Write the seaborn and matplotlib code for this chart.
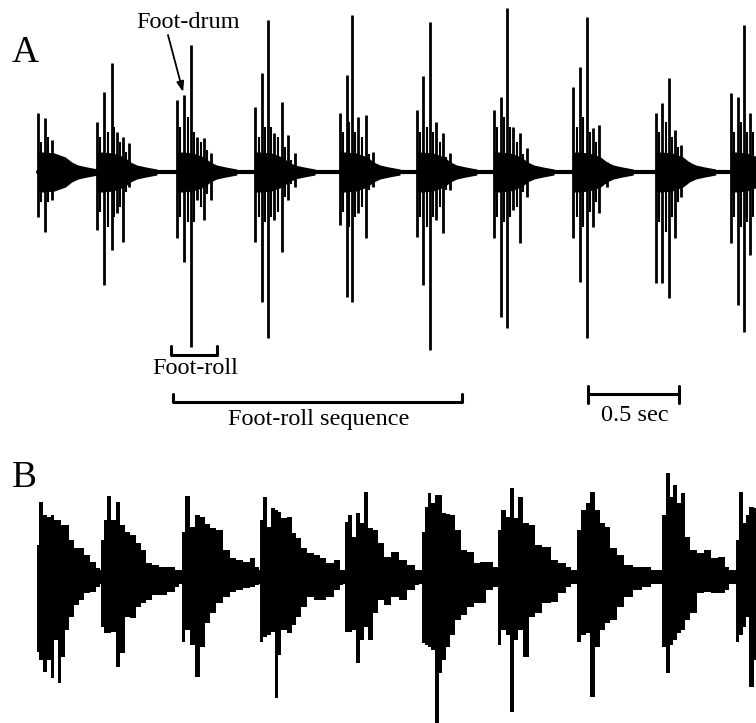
import numpy as np
import pandas as pd
import seaborn as sns
import matplotlib.pyplot as plt

sns.set_theme(style="white")
plt.rcParams['font.family'] = ['Liberation Serif', 'DejaVu Serif']

# ---------------- Panel A: foot-roll bursts ----------------
# burst onset (s); spikes inside a burst: offset (ms), upward / downward peak (a.u.)
a_onsets = [0.000, 0.323, 0.762, 1.192, 1.659, 2.081, 2.505, 2.941, 3.394, 3.806]
a_spike_ms = [
    [0, 38, 74],
    [0, 42, 82, 110, 146, 179],
    [0, 42, 77, 113, 150, 187],
    [0, 40, 73, 106, 147, 180, 220],
    [0, 37, 68, 100, 143, 180],
    [0, 36, 73, 106, 143, 183],
    [0, 37, 70, 106, 143, 180],
    [0, 37, 74, 107, 143, 183],
    [0, 36, 75, 106, 139, 185],
    [0, 38, 73, 106],
]
a_spike_up = [
    [0.59, 0.54, 0.32],
    [0.50, 0.80, 1.09, 0.40, 0.35, 0.29],
    [0.72, 0.77, 1.27, 0.35, 0.34, 0.19],
    [0.65, 0.99, 1.52, 0.39, 0.70, 0.37, 0.19],
    [0.59, 0.97, 1.57, 0.55, 0.57, 0.20],
    [0.62, 0.96, 1.50, 0.50, 0.39, 0.19],
    [0.62, 0.75, 1.64, 0.45, 0.39, 0.24],
    [0.85, 1.05, 1.55, 0.44, 0.47, 0.10],
    [0.59, 0.69, 0.94, 0.42, 0.27, 0.10],
    [0.79, 0.75, 1.47, 0.59],
]
a_spike_down = [
    [0.45, 0.60, 0.28],
    [0.58, 1.13, 0.78, 0.41, 0.70, 0.15],
    [0.66, 0.90, 1.75, 0.28, 0.48, 0.28],
    [0.70, 1.30, 1.66, 0.48, 0.80, 0.28, 0.15],
    [0.53, 1.25, 1.30, 0.41, 0.66, 0.15],
    [0.65, 1.13, 1.78, 0.48, 0.61, 0.18],
    [0.66, 1.45, 1.56, 0.38, 0.71, 0.25],
    [0.66, 1.10, 1.66, 0.55, 0.41, 0.15],
    [1.11, 1.11, 1.26, 0.66, 0.25, 0.08],
    [0.71, 1.33, 1.60, 0.83],
]
# smaller spikes between the main ones
a_sec_ms = [
    [18, 55, 92],
    [20, 62, 96, 128, 162],
    [20, 60, 95, 131, 168],
    [20, 57, 90, 126, 163, 200],
    [18, 52, 84, 121, 161],
    [18, 55, 90, 125, 163],
    [18, 53, 88, 125, 162],
    [18, 55, 90, 125, 163],
    [18, 55, 90, 122, 162],
    [18, 55, 90, 125],
]
a_sec_up = [
    [0.30, 0.35, 0.15],
    [0.35, 0.40, 0.45, 0.30, 0.20],
    [0.45, 0.55, 0.40, 0.30, 0.22],
    [0.35, 0.45, 0.45, 0.35, 0.25, 0.12],
    [0.40, 0.50, 0.40, 0.35, 0.18],
    [0.40, 0.45, 0.40, 0.30, 0.15],
    [0.45, 0.55, 0.45, 0.30, 0.18],
    [0.45, 0.55, 0.40, 0.30, 0.12],
    [0.40, 0.50, 0.35, 0.25, 0.12],
    [0.40, 0.50, 0.40, 0.40],
]
a_sec_down = [
    [0.30, 0.30, 0.15],
    [0.40, 0.55, 0.45, 0.35, 0.20],
    [0.45, 0.50, 0.50, 0.35, 0.22],
    [0.45, 0.50, 0.45, 0.40, 0.25, 0.12],
    [0.40, 0.55, 0.45, 0.35, 0.18],
    [0.45, 0.55, 0.45, 0.35, 0.18],
    [0.45, 0.50, 0.45, 0.35, 0.20],
    [0.45, 0.55, 0.40, 0.30, 0.12],
    [0.50, 0.60, 0.45, 0.30, 0.12],
    [0.45, 0.55, 0.50, 0.45],
]
# dense core of each burst (offset ms, half height a.u.)
a_core_ms = [0, 30, 90, 150, 185, 220, 270, 330]
a_core_half = [0.20, 0.20, 0.19, 0.15, 0.10, 0.07, 0.05, 0.03]

# ---------------- Panel B: envelope of each burst ----------------
b_onsets = [0.000, 0.352, 0.791, 1.220, 1.687, 2.110, 2.527, 2.962, 3.429, 3.830]
b_ms = [
    [0, 16, 38, 60, 77, 99, 115, 137, 159, 181, 209, 236, 269, 302, 335],
    [0, 22, 33, 60, 88, 110, 137, 170, 198, 225, 253, 291, 335, 379, 417],
    [5, 33, 60, 88, 115, 143, 170, 209, 247, 280, 318, 357, 390, 417],
    [5, 27, 44, 71, 88, 104, 126, 165, 181, 209, 236, 275, 313, 346, 384, 423, 450],
    [5, 27, 44, 71, 93, 115, 137, 165, 192, 231, 275, 318, 368, 401],
    [5, 27, 38, 60, 82, 99, 121, 143, 165, 198, 225, 264, 302, 335, 373, 412],
    [5, 33, 55, 77, 99, 126, 154, 187, 220, 269, 313, 351, 395],
    [5, 38, 55, 82, 110, 137, 165, 198, 236, 280, 329, 384, 428],
    [5, 33, 49, 71, 93, 110, 137, 170, 209, 253, 285, 329, 362],
    [11, 27, 55, 66, 88, 115],
]
b_up = [
    [0.32, 0.75, 0.62, 0.60, 0.62, 0.57, 0.57, 0.52, 0.52, 0.37, 0.29, 0.29, 0.22, 0.15, 0.09],
    [0.37, 0.57, 0.81, 0.57, 0.75, 0.52, 0.45, 0.42, 0.34, 0.27, 0.14, 0.12, 0.10, 0.10, 0.04],
    [0.45, 0.81, 0.50, 0.62, 0.60, 0.53, 0.49, 0.47, 0.27, 0.19, 0.17, 0.15, 0.19, 0.10],
    [0.57, 0.80, 0.50, 0.69, 0.67, 0.65, 0.59, 0.60, 0.44, 0.39, 0.29, 0.24, 0.22, 0.19, 0.14, 0.17, 0.07],
    [0.55, 0.62, 0.40, 0.64, 0.54, 0.85, 0.49, 0.47, 0.34, 0.20, 0.25, 0.17, 0.12, 0.07],
    [0.45, 0.70, 0.84, 0.74, 0.82, 0.82, 0.64, 0.63, 0.62, 0.47, 0.27, 0.25, 0.14, 0.15, 0.15, 0.10],
    [0.47, 0.67, 0.60, 0.89, 0.59, 0.80, 0.54, 0.52, 0.32, 0.30, 0.17, 0.14, 0.10],
    [0.47, 0.67, 0.74, 0.85, 0.67, 0.54, 0.50, 0.29, 0.22, 0.12, 0.10, 0.10, 0.07],
    [0.62, 1.04, 0.80, 0.92, 0.74, 0.84, 0.40, 0.27, 0.24, 0.27, 0.19, 0.20, 0.10],
    [0.37, 0.85, 0.54, 0.62, 0.70, 0.69],
]
b_down = [
    [0.75, 0.83, 0.95, 0.83, 1.01, 0.63, 1.06, 0.80, 0.53, 0.40, 0.28, 0.23, 0.16, 0.15, 0.10],
    [0.50, 0.56, 0.56, 0.55, 0.90, 0.76, 0.40, 0.41, 0.30, 0.26, 0.23, 0.18, 0.18, 0.15, 0.10],
    [0.65, 0.53, 0.68, 1.00, 0.70, 0.46, 0.36, 0.26, 0.20, 0.15, 0.13, 0.11, 0.10, 0.08],
    [0.65, 0.60, 0.58, 0.55, 1.21, 0.78, 0.53, 0.56, 0.48, 0.40, 0.30, 0.20, 0.23, 0.23, 0.20, 0.13, 0.08],
    [0.55, 0.55, 0.53, 0.86, 0.63, 0.50, 0.63, 0.36, 0.23, 0.28, 0.20, 0.23, 0.13, 0.08],
    [0.66, 0.68, 0.70, 0.73, 1.46, 0.96, 0.83, 0.70, 0.58, 0.43, 0.38, 0.30, 0.26, 0.26, 0.13, 0.10],
    [0.68, 0.53, 0.58, 1.35, 0.63, 0.53, 0.80, 0.40, 0.36, 0.26, 0.25, 0.16, 0.10],
    [0.65, 0.58, 0.56, 1.20, 0.70, 0.53, 0.46, 0.43, 0.30, 0.20, 0.13, 0.10, 0.06],
    [0.70, 0.96, 0.68, 0.63, 0.56, 0.53, 0.43, 0.36, 0.16, 0.15, 0.16, 0.16, 0.13],
    [0.65, 0.58, 0.50, 0.40, 1.10, 0.83],
]
b_noise = 0.07

T_END = 3.945
scale_bar_s = 0.5
FS = 17.5

fig = plt.figure(figsize=(7.56, 7.23), dpi=100)
axA = fig.add_axes([0, 0.3914, 1, 0.6086])
axB = fig.add_axes([0, 0, 1, 0.3914])
for ax in (axA, axB):
    ax.set_xlim(-0.209, T_END)
    ax.set_axis_off()
axA.set_ylim(-2.68, 1.72)
axB.set_ylim(-1.46, 1.37)

# --- panel A ---
def spike_table(onsets, ms_lists, up_lists, down_lists):
    return pd.DataFrame([
        {'t': on + ms / 1000, 'up': u, 'down': -d}
        for on, mss, ups, dns in zip(onsets, ms_lists, up_lists, down_lists)
        for ms, u, d in zip(mss, ups, dns)
    ])

spikes = spike_table(a_onsets, a_spike_ms, a_spike_up, a_spike_down)
small = spike_table(a_onsets, a_sec_ms, a_sec_up, a_sec_down)

sns.lineplot(x=[0, T_END], y=[0, 0], ax=axA, color='black', lw=3)
for on in a_onsets:
    t = on + np.array(a_core_ms) / 1000
    h = np.array(a_core_half)
    axA.fill_between(t, -h, h, color='black', lw=0)
axA.vlines(small['t'], small['down'], small['up'], color='black', lw=1.5)
axA.vlines(spikes['t'], spikes['down'], spikes['up'], color='black', lw=2.0)

# annotations
axA.text(0.827, 1.50, 'Foot-drum', ha='center', va='center', fontsize=FS, color='black')
axA.annotate('', xy=(0.797, 0.80), xytext=(0.714, 1.37),
             arrowprops=dict(arrowstyle='-|>,head_length=0.5,head_width=0.18',
                             color='black', lw=1.3, shrinkA=0, shrinkB=0))
axA.plot([0.731, 0.731, 0.984, 0.984], [-1.74, -1.83, -1.83, -1.74], color='black', lw=2.2)
axA.text(0.863, -1.96, 'Foot-roll', ha='center', va='center', fontsize=FS, color='black')
axA.plot([0.742, 0.742, 2.330, 2.330], [-2.22, -2.30, -2.30, -2.22], color='black', lw=2.2)
axA.text(1.544, -2.47, 'Foot-roll sequence', ha='center', va='center', fontsize=FS, color='black')
sb0 = 3.022
axA.plot([sb0, sb0 + scale_bar_s], [-2.22, -2.22], color='black', lw=2.2)
axA.plot([sb0, sb0], [-2.14, -2.31], color='black', lw=2.2)
axA.plot([sb0 + scale_bar_s, sb0 + scale_bar_s], [-2.14, -2.31], color='black', lw=2.2)
axA.text(sb0 + scale_bar_s / 2 + 0.008, -2.43, '0.5 sec', ha='center', va='center',
         fontsize=FS, color='black')
axA.text(0.033, 0.88, 'A', transform=axA.transAxes, ha='center', va='center',
         fontsize=27, color='black')

# --- panel B ---
axB.fill_between([0, T_END], -b_noise, b_noise, color='black', lw=0)
for on, mss, ups, dns in zip(b_onsets, b_ms, b_up, b_down):
    t = on + np.array(mss) / 1000
    up = np.array(ups)
    dn = -np.array(dns)
    axB.fill_between(t, dn, up, step='mid', color='black', lw=0)
    axB.vlines(t, dn, up, color='black', lw=1.4)
axB.text(0.032, 0.866, 'B', transform=axB.transAxes, ha='center', va='center',
         fontsize=27, color='black')

fig.savefig('out.png', dpi=100, facecolor='white')
